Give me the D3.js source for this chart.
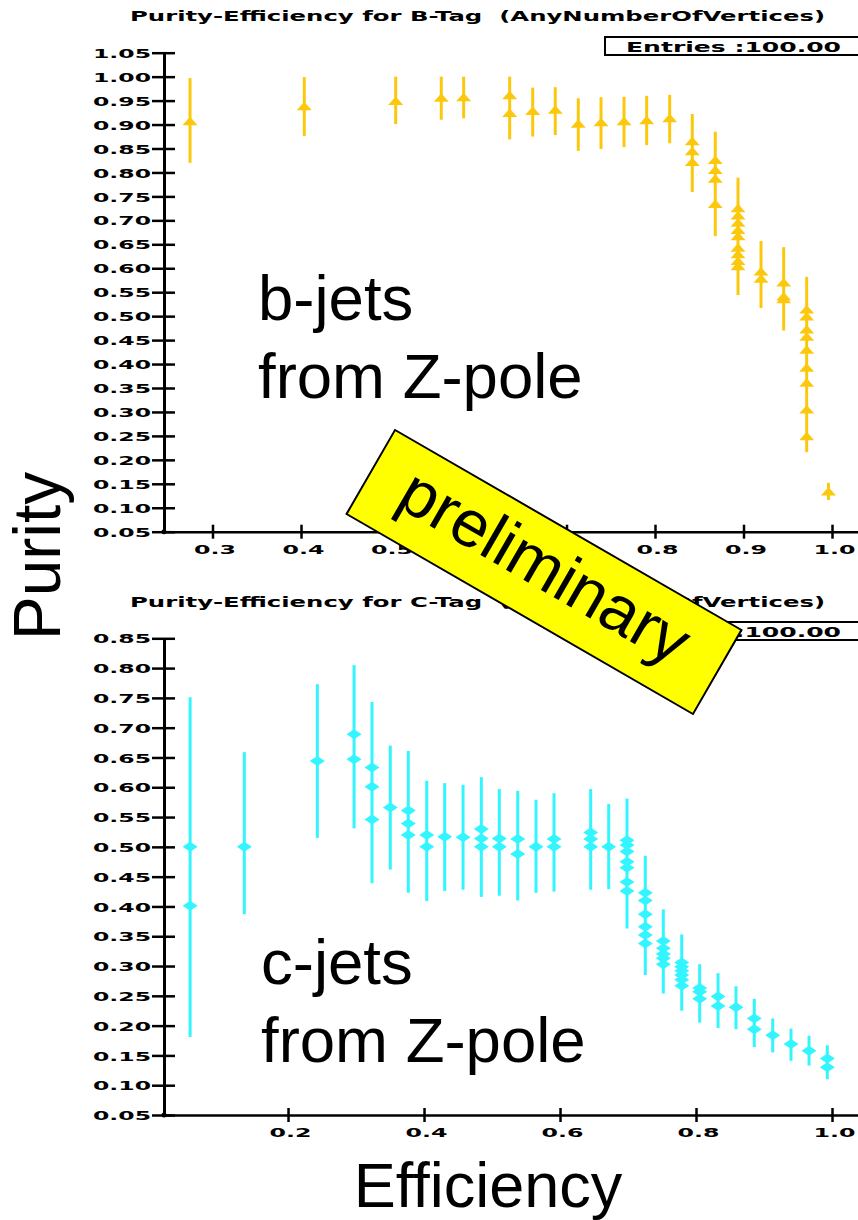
<!DOCTYPE html>
<html><head><meta charset="utf-8">
<script src="https://cdn.jsdelivr.net/npm/d3@7"></script>
<style>body{margin:0;background:#fff}svg{display:block}</style>
</head><body>
<script>
// ---------- DATA ----------
// B-tag panel: error bars (efficiency, low, high) and markers (efficiency, purity)
const bBarEff  = [0.2746,0.4037,0.507,0.5585,0.5838,0.6358,0.6618,0.6873,0.7133,0.739,0.765,0.7906,0.8166,0.8421,0.8681,0.8938,0.9198,0.9454,0.9714,0.996];
const bBarLow  = [0.82,0.876,0.901,0.91,0.913,0.869,0.875,0.878,0.845,0.849,0.853,0.857,0.861,0.759,0.667,0.544,0.517,0.47,0.216,0.116];
const bBarHigh = [0.997,0.999,1.0,1.0,1.0,1.0,0.977,0.978,0.955,0.957,0.958,0.96,0.962,0.922,0.885,0.789,0.657,0.644,0.582,0.152];
const bMarkEff = [0.2746,0.4037,0.507,0.5585,0.5838,0.6358,0.6358,0.6618,0.6873,0.7133,0.739,0.765,0.7906,0.8166,
  0.8421,0.8421,0.8421,0.8681,0.8681,0.8681,0.8681,
  0.8938,0.8938,0.8938,0.8938,0.8938,0.8938,0.8938,0.8938,0.8938,
  0.9198,0.9198,0.9454,0.9454,0.9454,
  0.9714,0.9714,0.9714,0.9714,0.9714,0.9714,0.9714,0.9714,0.9714,0.996];
const bMarkPur = [0.906,0.937,0.948,0.955,0.956,0.960,0.923,0.927,0.930,0.9005,0.904,0.906,0.908,0.912,
  0.864,0.843,0.821,0.825,0.804,0.786,0.733,
  0.724,0.709,0.694,0.679,0.666,0.642,0.628,0.614,0.603,
  0.592,0.577,0.569,0.540,0.534,
  0.513,0.498,0.471,0.456,0.429,0.391,0.360,0.304,0.248,0.133];

// C-tag panel
const cBarEff  = [0.056,0.1357,0.2431,0.2971,0.3235,0.3504,0.3769,0.404,0.4304,0.4574,0.4843,0.5107,0.5378,0.5647,0.5912,0.6451,0.6716,0.6985,0.7254,0.7519,0.779,0.8054,0.8324,0.8588,0.8857,0.9128,0.9397,0.9662,0.9931];
const cBarLow  = [0.181,0.387,0.515,0.531,0.439,0.462,0.423,0.409,0.426,0.428,0.416,0.418,0.41,0.423,0.425,0.428,0.429,0.363,0.285,0.254,0.225,0.205,0.196,0.194,0.164,0.155,0.141,0.133,0.11];
const cBarHigh = [0.751,0.659,0.773,0.805,0.743,0.67,0.661,0.611,0.607,0.604,0.617,0.597,0.594,0.579,0.59,0.597,0.572,0.581,0.485,0.395,0.353,0.303,0.288,0.266,0.245,0.212,0.195,0.183,0.167];
const cMarkEff = [0.056,0.056,0.1357,0.2431,0.2971,0.2971,0.3235,0.3235,0.3235,0.3504,0.3769,0.3769,0.3769,0.404,0.404,0.4304,0.4574,
  0.4843,0.4843,0.4843,0.5107,0.5107,0.5378,0.5378,0.5647,0.5912,0.5912,0.6451,0.6451,0.6451,0.6716,
  0.6985,0.6985,0.6985,0.6985,0.6985,0.6985,0.6985,
  0.7254,0.7254,0.7254,0.7254,0.7254,0.7254,
  0.7519,0.7519,0.7519,0.7519,0.7519,
  0.779,0.779,0.779,0.779,0.779,0.779,
  0.8054,0.8054,0.8054,0.8324,0.8324,0.8588,0.8857,0.8857,0.9128,0.9397,0.9662,0.9931,0.9931];
const cMarkPur = [0.500,0.401,0.500,0.644,0.689,0.647,0.633,0.601,0.546,0.566,0.561,0.539,0.520,0.520,0.500,0.517,0.516,
  0.530,0.514,0.500,0.514,0.500,0.513,0.488,0.500,0.513,0.500,0.524,0.513,0.500,0.500,
  0.511,0.503,0.492,0.475,0.465,0.441,0.426,
  0.423,0.410,0.387,0.366,0.352,0.338,
  0.342,0.330,0.320,0.313,0.303,
  0.306,0.299,0.292,0.285,0.277,0.267,
  0.263,0.257,0.245,0.249,0.233,0.231,0.212,0.194,0.184,0.169,0.158,0.145,0.130];

const bYTicks = [0.05,0.10,0.15,0.20,0.25,0.30,0.35,0.40,0.45,0.50,0.55,0.60,0.65,0.70,0.75,0.80,0.85,0.90,0.95,1.00,1.05];
const bXTicks = [0.3,0.4,0.5,0.6,0.7,0.8,0.9,1.0];
const cYTicks = [0.05,0.10,0.15,0.20,0.25,0.30,0.35,0.40,0.45,0.50,0.55,0.60,0.65,0.70,0.75,0.80,0.85];
const cXTicks = [0.2,0.4,0.6,0.8,1.0];

const titles = ["Purity-Efficiency for B-Tag  (AnyNumberOfVertices)", "Purity-Efficiency for C-Tag  (AnyNumberOfVertices)"];
const entriesText = "Entries :100.00";

// ---------- DRAW ----------
const W = 858, H = 1220;
const svg = d3.select("body").append("svg").attr("width", W).attr("height", H);
const gold = "#fcc80e", cyan = "#33f5ff";
const tickFont = "'DejaVu Sans', sans-serif";

function panel(cfg) {
  const x = d3.scaleLinear().domain(cfg.xDomain).range([164, 859]);
  const y = d3.scaleLinear().domain(cfg.yDomain).range(cfg.yRange);
  const g = svg.append("g");

  // title
  g.append("text").attr("x", 130).attr("y", cfg.titleY).style("white-space", "pre")
    .attr("font-family", tickFont).attr("font-weight", "bold").attr("font-size", 14.5)
    .attr("textLength", 695).attr("lengthAdjust", "spacingAndGlyphs").text(cfg.title);

  // entries box
  g.append("rect").attr("x", 605).attr("y", cfg.boxY).attr("width", 262).attr("height", 18)
    .attr("fill", "#fff").attr("stroke", "#000").attr("stroke-width", 2);
  g.append("text").attr("x", 626).attr("y", cfg.boxY + 15)
    .attr("font-family", tickFont).attr("font-weight", "bold").attr("font-size", 14)
    .attr("textLength", 215).attr("lengthAdjust", "spacingAndGlyphs").text(entriesText);

  // y axis
  const ya = g.append("g").attr("transform", "translate(164,0)")
    .call(d3.axisLeft(y).tickValues(cfg.yTicks).tickFormat(d3.format(".2f")).tickSizeInner(12).tickSizeOuter(0).tickPadding(0));
  ya.select(".domain").attr("stroke-width", 3);
  ya.selectAll(".tick line").attr("x1", 11).attr("x2", -12).attr("stroke-width", 2.5);
  ya.selectAll(".tick text").attr("x", -13).attr("dy", "0.37em")
    .attr("font-family", tickFont).attr("font-weight", "bold").attr("font-size", 12.5).attr("fill", "#000")
    .attr("textLength", 58).attr("lengthAdjust", "spacingAndGlyphs");

  // x axis
  const xa = g.append("g").attr("transform", `translate(0,${cfg.yRange[0]})`)
    .call(d3.axisBottom(x).tickValues(cfg.xTicks).tickFormat(d3.format(".1f")).tickSizeInner(7).tickSizeOuter(0).tickPadding(0));
  xa.select(".domain").attr("stroke-width", 2.5);
  xa.selectAll(".tick line").attr("y1", -7).attr("y2", 7).attr("stroke-width", 2.5);
  xa.selectAll(".tick text").attr("x", 2).attr("y", 13).attr("dy", "0.71em")
    .attr("font-family", tickFont).attr("font-weight", "bold").attr("font-size", 12.5).attr("fill", "#000")
    .attr("textLength", 42).attr("lengthAdjust", "spacingAndGlyphs");
  g.append("circle").attr("cx", 164).attr("cy", cfg.yRange[0]).attr("r", 2.5).attr("fill", "#000");

  // error bars
  g.append("g").selectAll("line").data(cfg.barEff).join("line")
    .attr("x1", d => x(d)).attr("x2", d => x(d))
    .attr("y1", (d, i) => y(cfg.barHigh[i])).attr("y2", (d, i) => y(cfg.barLow[i]))
    .attr("stroke", cfg.color).attr("stroke-width", 3);

  // markers
  g.append("g").selectAll("path").data(cfg.markEff).join("path")
    .attr("transform", (d, i) => `translate(${x(d)},${y(cfg.markPur[i])})`)
    .attr("d", cfg.marker).attr("fill", cfg.color);
}

panel({
  title: titles[0], titleY: 21, boxY: 37,
  xDomain: [0.2452, 1.0305], yDomain: [0.05, 1.05], yRange: [531.7, 52.7],
  yTicks: bYTicks, xTicks: bXTicks, color: gold,
  barEff: bBarEff, barLow: bBarLow, barHigh: bBarHigh, markEff: bMarkEff, markPur: bMarkPur,
  marker: "M0,-5L7.5,3.5L-7.5,3.5Z"
});
panel({
  title: titles[1], titleY: 607, boxY: 622,
  xDomain: [0.0176, 1.0397], yDomain: [0.05, 0.85], yRange: [1115, 638.3],
  yTicks: cYTicks, xTicks: cXTicks, color: cyan,
  barEff: cBarEff, barLow: cBarLow, barHigh: cBarHigh, markEff: cMarkEff, markPur: cMarkPur,
  marker: "M-7.5,0L-1.5,-4L0,-5L1.5,-4L7.5,0L1.5,4L0,5L-1.5,4Z"
});

// big labels
const big = "'Liberation Sans', Arial, sans-serif";
function label(x0, y0, txt, size) {
  svg.append("text").attr("x", x0).attr("y", y0).attr("font-family", big).attr("font-size", size).text(txt);
}
label(258, 320, "b-jets", 63.5);
label(258, 398, "from Z-pole", 63.5);
label(261, 984, "c-jets", 63.5);
label(261, 1062, "from Z-pole", 63.5);

svg.append("text").attr("transform", "translate(60,556) rotate(-90)").attr("text-anchor", "middle")
  .attr("font-family", big).attr("font-size", 66).text("Purity");
svg.append("text").attr("x", 488).attr("y", 1207).attr("text-anchor", "middle")
  .attr("font-family", big).attr("font-size", 63).text("Efficiency");

// preliminary banner
const ban = svg.append("g").attr("transform", "translate(544,572) rotate(30)");
ban.append("rect").attr("x", -200).attr("y", -48.5).attr("width", 400).attr("height", 97)
  .attr("fill", "#ffff00").attr("stroke", "#000").attr("stroke-width", 2);
ban.append("text").attr("x", -2).attr("y", 17).attr("text-anchor", "middle")
  .attr("font-family", big).attr("font-size", 66).text("preliminary");
</script>
</body></html>
